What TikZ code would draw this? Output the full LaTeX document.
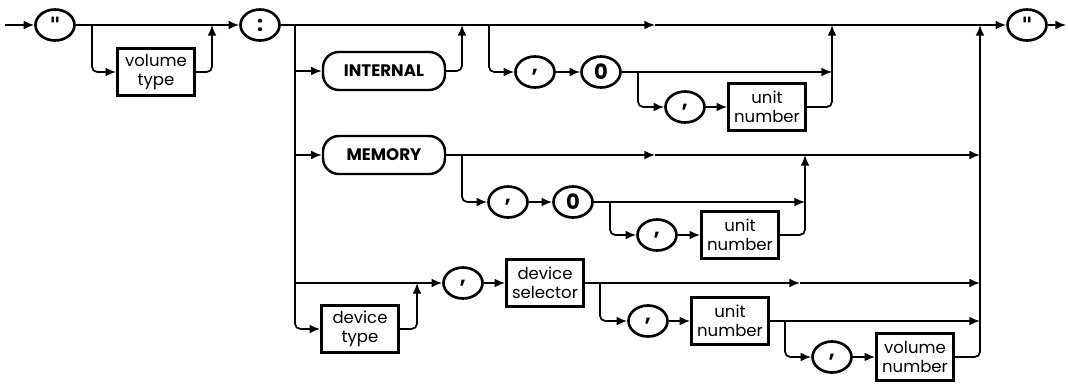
\documentclass[tikz,border=0pt]{standalone}
\usepackage{fontspec}
\setmainfont{Poppins}
\newfontfamily\qfont{DejaVu Sans}
\usetikzlibrary{arrows.meta,shapes.geometric}

\begin{document}
\begin{tikzpicture}[x=0.02cm, y=-0.02cm,
    every node/.style={font=\fontsize{9.4}{10.6}\selectfont},
    trm/.style={ellipse, draw, line width=1.5pt, minimum width=0.78cm, minimum height=0.62cm, inner sep=0pt, font=\fontsize{12}{12}\selectfont\bfseries},
    kw/.style={rectangle, draw, line width=1.4pt, rounded corners=9pt, minimum width=2.44cm, minimum height=0.76cm, inner sep=0pt, font=\fontsize{9.5}{10}\selectfont\bfseries},
    ntm/.style={rectangle, draw, line width=1.6pt, minimum width=1.54cm, minimum height=0.94cm, inner sep=1pt, align=center},
    ln/.style={line width=1pt, rounded corners=3pt, -{Latex[length=6pt,width=5pt]}}
]
\useasboundingbox (0,0) rectangle (1068,385);

% terminals
\node[trm] (qin) at (55,25) {\qfont "};
\node[trm] (colon) at (260,25) {:};
\node[trm] (qout) at (1027,25) {\qfont "};
\foreach \n/\x/\y in {ic1/535/72, ic2/685/107, mc1/508/202, mc2/657/235, dc1/463/283, dc2/648/321, dc3/832/357}
    \node[trm] (\n) at (\x,\y) {,};
\foreach \n/\x/\y in {iz/601/72, mz/573/202}
    \node[trm] (\n) at (\x,\y) {0};

% keywords
\node[kw] (internal) at (384,71) {INTERNAL};
\node[kw] (memory) at (384,155) {MEMORY};

% non-terminals
\node[ntm] (vtype) at (156,72) {volume\\type};
\node[ntm] (iunit) at (767,107) {unit\\number};
\node[ntm] (munit) at (740,235) {unit\\number};
\node[ntm] (dtype) at (360,329) {device\\type};
\node[ntm] (dsel) at (545,283) {device\\selector};
\node[ntm] (dunit) at (730,321) {unit\\number};
\node[ntm] (dvol) at (915,357) {volume\\number};

% junctions
\coordinate (start) at (5,25);
\coordinate (fin) at (1066,25);
\coordinate (j1) at (92,25);
\coordinate (j2) at (212,25);
\coordinate (bar) at (295,25);
\coordinate (ij) at (462,25);
\coordinate (ib) at (489,25);
\coordinate (a1) at (655,25);
\coordinate (ir) at (832,25);
\coordinate (rb) at (980,25);
\coordinate (ib2) at (638,72);
\coordinate (mb) at (462,155);
\coordinate (ma) at (655,155);
\coordinate (mr) at (805,155);
\coordinate (mb2) at (610,202);
\coordinate (dj) at (417,283);
\coordinate (db) at (600,283);
\coordinate (da) at (800,283);
\coordinate (db2) at (785,321);

% main line
\draw[ln] (start) -- (qin);
\draw[ln] (qin) -- (colon);
\draw[ln] (j1) |- (vtype);
\draw[ln] (vtype) -| (j2);
\draw[ln] (colon) -- (a1);
\draw[ln] (a1) -- (qout);
\draw[ln] (qout) -- (fin);

% left bar
\draw[ln] (bar) |- (dtype);
\draw[ln] (bar |- internal) -- (internal);
\draw[ln] (bar |- memory) -- (memory);
\draw[ln] (bar |- dc1) -- (dc1);
\draw[ln] (dtype) -| (dj);

% INTERNAL
\draw[ln] (internal) -| (ij);
\draw[ln] (ib) |- (ic1);
\draw[ln] (ic1) -- (iz);
\draw[ln] (iz) -- (iz -| ir);
\draw[ln] (ib2) |- (ic2);
\draw[ln] (ic2) -- (iunit);
\draw[ln] (iunit) -| (ir);

% MEMORY
\draw[ln] (memory) -- (ma);
\draw[ln] (ma) -- (memory -| rb);
\draw[ln] (mb) |- (mc1);
\draw[ln] (mc1) -- (mz);
\draw[ln] (mz) -- (mz -| mr);
\draw[ln] (mb2) |- (mc2);
\draw[ln] (mc2) -- (munit);
\draw[ln] (munit) -| (mr);

% device
\draw[ln] (dc1) -- (dsel);
\draw[ln] (dsel) -- (da);
\draw[ln] (da) -- (dsel -| rb);
\draw[ln] (db) |- (dc2);
\draw[ln] (dc2) -- (dunit);
\draw[ln] (dunit) -- (dunit -| rb);
\draw[ln] (db2) |- (dc3);
\draw[ln] (dc3) -- (dvol);
\draw[ln] (dvol) -| (rb);
\end{tikzpicture}
\end{document}
